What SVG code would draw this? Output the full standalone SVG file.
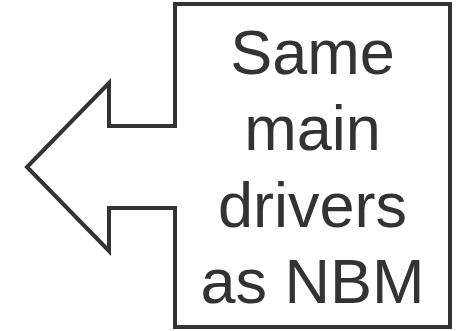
<svg xmlns="http://www.w3.org/2000/svg" width="462" height="331" viewBox="0 0 462 331">
<style>
.shape{fill:#fff;stroke:#333;stroke-width:4;stroke-linejoin:miter}
.lbl{font-family:"Liberation Sans",Arial,sans-serif;font-size:63px;fill:#333;text-anchor:middle}
</style>
<rect width="462" height="331" fill="#fff"/>
<g id="callout">
<path class="shape" d="M175,4 H450 V327 H175 V208 H109 V251 L27,167 L109,83 V126 H175 Z"/>
<text class="lbl" x="312.5" y="74">Same</text>
<text class="lbl" x="312.5" y="150">main</text>
<text class="lbl" x="312.5" y="227">drivers</text>
<text class="lbl" x="312.5" y="303">as NBM</text>
</g>
</svg>
